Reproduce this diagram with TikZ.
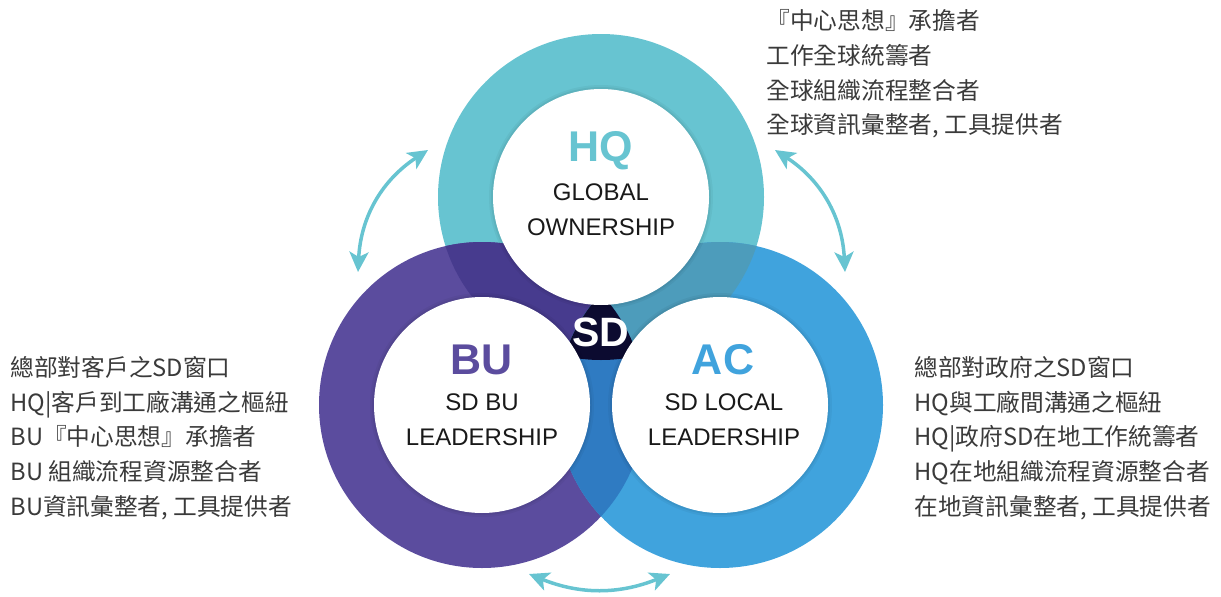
\documentclass[tikz,border=0pt]{standalone}
\usepackage{fontspec}
\setmainfont{Liberation Sans}
\newfontfamily\cjk{Noto Sans CJK TC}
\usetikzlibrary{arrows.meta, positioning}
\definecolor{hqteal}{HTML}{67C4D1}
\definecolor{bupurple}{HTML}{5B4C9E}
\definecolor{acblue}{HTML}{40A3DD}
\definecolor{hqbu}{HTML}{473B8E}
\definecolor{hqac}{HTML}{4D9CBB}
\definecolor{buac}{HTML}{2F7BC2}
\definecolor{core}{HTML}{0C0B30}
\definecolor{notegray}{HTML}{3A3A3A}

\begin{document}
\begin{tikzpicture}[x=1pt, y=-1pt,
    whitedisc/.style={circle, fill=white, minimum size=216pt, inner sep=0pt},
    headtext/.style={font=\fontsize{43}{43}\selectfont\bfseries},
    roletext/.style={font=\fontsize{24}{35}\selectfont, text=black!90, align=center},
    note/.style={font=\cjk\fontsize{23.7}{34.6}\selectfont, text=notegray, anchor=west, align=left},
    twoway/.style={{Stealth[length=20pt,width=19pt,inset=5pt]}-{Stealth[length=20pt,width=19pt,inset=5pt]}, line width=3.5pt, draw=hqteal}
    ]
\useasboundingbox (0,0) rectangle (1221,597);

% ring centres
\coordinate (hq) at (601,197);
\coordinate (bu) at (482,405);
\coordinate (ac) at (720,405);

% coloured discs and their overlaps
\fill[hqteal] (hq) circle (163pt);
\fill[bupurple] (bu) circle (163pt);
\fill[acblue] (ac) circle (163pt);
\begin{scope}
  \clip (hq) circle (163pt);
  \fill[hqbu] (bu) circle (163pt);
  \fill[hqac] (ac) circle (163pt);
\end{scope}
\begin{scope}
  \clip (bu) circle (163pt);
  \fill[buac] (ac) circle (163pt);
  \clip (hq) circle (163pt);
  \fill[core] (ac) circle (163pt);
\end{scope}

% soft shadow and white centres
\foreach \c in {hq,bu,ac} {
  \fill[black, opacity=.04] (\c) circle (112pt);
  \fill[black, opacity=.05] (\c) circle (110pt);
}
\node[whitedisc] (hqdisc) at (hq) {};
\node[whitedisc] (budisc) at (bu) {};
\node[whitedisc] (acdisc) at (ac) {};

\node[headtext, text=hqteal] (hqhead) at (601,151) {HQ};
\node[roletext] (hqrole) at (601,210) {GLOBAL\\OWNERSHIP};
\node[headtext, text=bupurple] (buhead) at (482,360) {BU};
\node[roletext] (burole) at (482,420) {SD BU\\LEADERSHIP};
\node[headtext, text=acblue] (achead) at (723,360) {AC};
\node[roletext] (acrole) at (724,420) {SD LOCAL\\LEADERSHIP};
\node[font=\fontsize{41}{41}\selectfont\bfseries, text=white] (sd) at (601,332) {SD};

% notes
\node[note] (hqnote) at (763,74) {『中心思想』承擔者\\工作全球統籌者\\全球組織流程整合者\\全球資訊彙整者, 工具提供者};
\node[note] (bunote) at (7,438) {總部對客戶之SD窗口\\HQ|客戶到工廠溝通之樞紐\\BU『中心思想』承擔者\\BU 組織流程資源整合者\\BU資訊彙整者, 工具提供者};
\node[note] (acnote) at (911,438) {總部對政府之SD窗口\\HQ與工廠間溝通之樞紐\\HQ|政府SD在地工作統籌者\\HQ在地組織流程資源整合者\\在地資訊彙整者, 工具提供者};

% arrows between rings
\coordinate (l1) at (428,150);
\coordinate (l2) at (358,272);
\coordinate (r1) at (775,150);
\coordinate (r2) at (845,272);
\coordinate (b1) at (529,574);
\coordinate (b2) at (670,574);
\draw[twoway] (l1) to[bend right=27] (l2);
\draw[twoway] (r1) to[bend left=27] (r2);
\draw[twoway] (b1) to[bend right=22] (b2);
\end{tikzpicture}
\end{document}
